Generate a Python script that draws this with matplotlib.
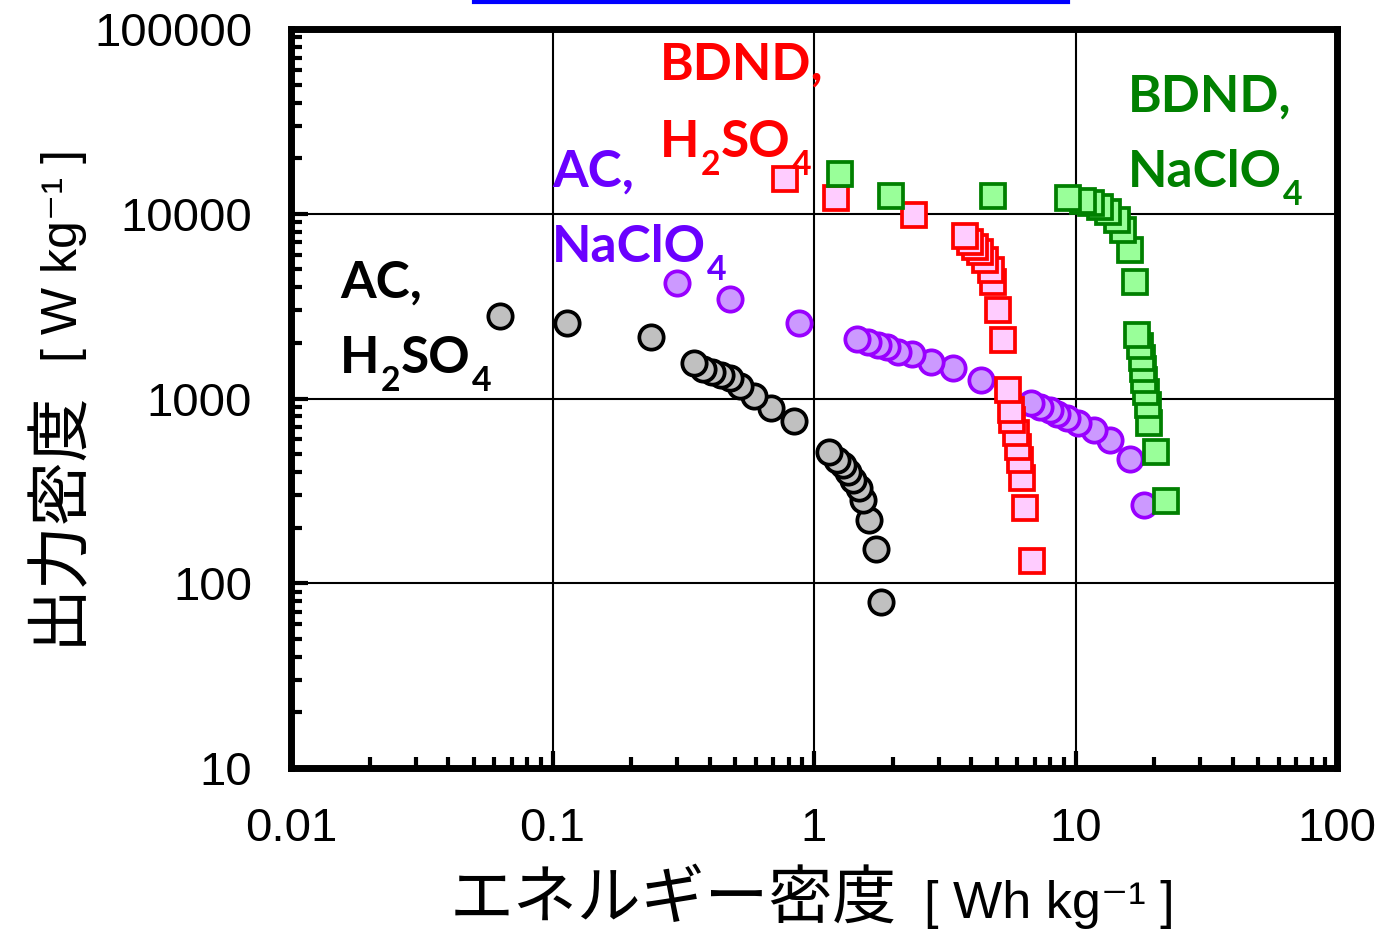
import numpy as np
import matplotlib
matplotlib.use("Agg")
import matplotlib.pyplot as plt
from matplotlib.lines import Line2D
from matplotlib.ticker import LogLocator, NullFormatter, FixedFormatter, FixedLocator

# energy density [Wh/kg], power density [W/kg]
# (listed from the slowest rate to the fastest, as they were plotted)
ac_h2so4_E = [1.80, 1.73, 1.63, 1.54, 1.48, 1.41, 1.35, 1.29, 1.22, 1.14,
              0.84, 0.686, 0.591, 0.521, 0.477, 0.441, 0.408, 0.377, 0.347,
              0.238, 0.114, 0.0632]
ac_h2so4_P = [79, 153, 220, 282, 327, 362, 402, 436, 465, 513,
              753, 892, 1035, 1169, 1286, 1340, 1386, 1439, 1550,
              2145, 2573, 2806]

ac_naclo4_E = [18.3, 16.2, 13.6, 11.8, 10.25, 9.25, 8.48, 7.99, 7.32, 6.74,
               4.35, 3.39, 2.80, 2.36, 2.10, 1.90, 1.76, 1.61, 1.46,
               0.88, 0.477, 0.299]
ac_naclo4_P = [265, 469, 596, 675, 734, 781, 824, 867, 896, 942,
               1260, 1457, 1582, 1735, 1792, 1893, 1948, 2030, 2092,
               2573, 3456, 4203]

bdnd_h2so4_E = [6.83, 6.39, 6.27, 6.14, 6.04, 5.90, 5.74, 5.66, 5.53,
                5.30, 5.07, 4.85, 4.74, 4.51, 4.31, 4.13, 3.95, 3.78,
                2.42, 1.21, 0.777]
bdnd_h2so4_P = [132, 256, 370, 465, 548, 648, 765, 867, 1117,
                2073, 3013, 4287, 4961, 5618, 6232, 6632, 7058, 7577,
                9845, 12122, 15425]

bdnd_naclo4_E = [22.2, 20.4, 19.15, 18.9, 18.6, 18.3, 18.1, 17.9, 17.65, 17.26,
                 16.9, 16.2, 15.2, 14.4, 13.35, 12.4, 11.5, 10.7, 9.39,
                 4.85, 1.97, 1.26]
bdnd_naclo4_P = [280, 512, 734, 922, 1088, 1260, 1444, 1651, 1924, 2206,
                 4287, 6365, 8166, 9252, 10259, 10920, 11393, 11766, 12122,
                 12522, 12522, 16414]

x_ticks = [0.01, 0.1, 1, 10, 100]
x_labels = ["0.01", "0.1", "1", "10", "100"]
y_ticks = [10, 100, 1000, 10000, 100000]
y_labels = ["10", "100", "1000", "10000", "100000"]

W, H = 1381, 933
fig = plt.figure(figsize=(W / 100, H / 100), dpi=100)
ax = fig.add_axes([291 / W, 1 - 768 / H, (1337 - 291) / W, (768 - 29) / H])

ms = 17.5
mew = 2.7
ax.plot(ac_h2so4_E, ac_h2so4_P, 'o', ms=ms, mfc='#c0c0c0', mec='black', mew=mew, zorder=3)
ax.plot(ac_naclo4_E, ac_naclo4_P, 'o', ms=ms, mfc='#cc99ff', mec='#9900ff', mew=mew, zorder=4)
ax.plot(bdnd_h2so4_E, bdnd_h2so4_P, 's', ms=ms - 0.5, mfc='#ffccff', mec='#ff0000', mew=mew, zorder=5)
ax.plot(bdnd_naclo4_E, bdnd_naclo4_P, 's', ms=ms - 0.5, mfc='#99ff99', mec='#008000', mew=mew, zorder=6)

ax.set_xscale('log')
ax.set_yscale('log')
ax.set_xlim(0.01, 100)
ax.set_ylim(10, 100000)

ax.xaxis.set_major_locator(FixedLocator(x_ticks))
ax.xaxis.set_major_formatter(FixedFormatter(x_labels))
ax.yaxis.set_major_locator(FixedLocator(y_ticks))
ax.yaxis.set_major_formatter(FixedFormatter(y_labels))
ax.xaxis.set_minor_locator(LogLocator(base=10, subs=np.arange(2, 10), numticks=20))
ax.yaxis.set_minor_locator(LogLocator(base=10, subs=np.arange(2, 10), numticks=20))
ax.xaxis.set_minor_formatter(NullFormatter())
ax.yaxis.set_minor_formatter(NullFormatter())

ax.grid(True, which='major', color='black', lw=1.5, zorder=1)
for s in ax.spines.values():
    s.set_linewidth(5)
ax.tick_params(which='both', direction='in', top=False, right=False, width=3)
ax.tick_params(which='major', length=12, pad=28, labelsize=34)
ax.tick_params(which='minor', length=8)
for lab in ax.get_xticklabels() + ax.get_yticklabels():
    lab.set_fontfamily('Liberation Sans')

# annotations, with hand-placed subscripts
renderer = fig.canvas.get_renderer()

def label(x, y, parts, color, size=37):
    # parts: list of (text, is_subscript); x, y in pixels from top-left
    cx = x
    for t, sub in parts:
        fs = size * 0.66 if sub else size
        yy = y + 18 if sub else y
        txt = fig.text(cx / W, 1 - yy / H, t, color=color, family='Lato', weight='bold',
                       fontsize=fs, ha='left', va='baseline', zorder=10)
        cx += txt.get_window_extent(renderer).width + 1

label(340, 298, [("AC,", False)], 'black')
label(340, 373, [("H", False), ("2", True), ("SO", False), ("4", True)], 'black')
label(552, 187, [("AC,", False)], '#6a00ff')
label(552, 262, [("NaClO", False), ("4", True)], '#6a00ff')
label(660, 80, [("BDND,", False)], '#ff0000')
label(660, 157, [("H", False), ("2", True), ("SO", False), ("4", True)], '#ff0000')
label(1128, 112, [("BDND,", False)], '#008000')
label(1128, 187, [("NaClO", False), ("4", True)], '#008000')

# axis labels
jp = ['Noto Sans CJK JP', 'DejaVu Sans']
en = ['Liberation Sans', 'DejaVu Sans']
fig.text(897 / W, 1 - 918 / H, "エネルギー密度", family=jp, fontsize=46,
         ha='right', va='baseline')
fig.text(924 / W, 1 - 918 / H, "[ Wh kg⁻¹ ]", family=en, fontsize=37.5,
         ha='left', va='baseline')
fig.text(75 / W, 1 - 645 / H, "出力密度", family=jp, fontsize=46, rotation=90,
         rotation_mode='anchor', ha='left', va='baseline')
fig.text(77 / W, 1 - 362 / H, "[ W kg⁻¹ ]", family=en, fontsize=36, rotation=90,
         rotation_mode='anchor', ha='left', va='baseline')

# blue rule at the very top
fig.add_artist(Line2D([474 / W, 1068 / W], [1 - 2 / H, 1 - 2 / H], color='#0000ff', lw=3))

fig.savefig('out.png', dpi=100)
